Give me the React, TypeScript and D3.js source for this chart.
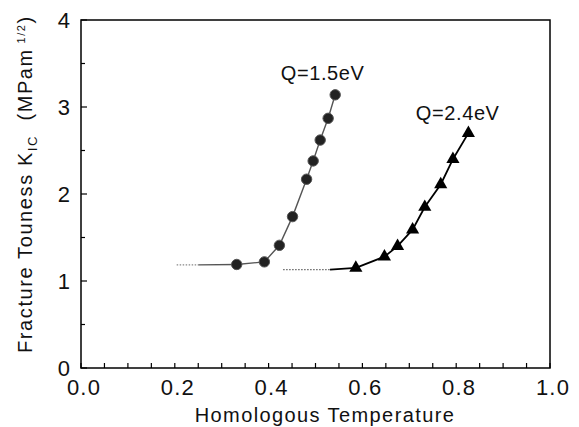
import React, { useEffect, useRef } from 'react';
import * as d3 from 'd3';

// Q = 1.5 eV series (circles)
const tempLow = [0.332, 0.391, 0.423, 0.451, 0.481, 0.495, 0.51, 0.527, 0.542];
const kicLow = [1.19, 1.22, 1.41, 1.74, 2.17, 2.38, 2.62, 2.87, 3.14];
// Q = 2.4 eV series (triangles)
const tempHigh = [0.586, 0.647, 0.675, 0.707, 0.733, 0.767, 0.793, 0.826];
const kicHigh = [1.15, 1.28, 1.4, 1.59, 1.85, 2.11, 2.4, 2.7];

// plateau extrapolations: dotted part then solid part
const lowDotT = [0.204, 0.25];
const lowDotK = [1.185, 1.185];
const lowSolidT = [0.25, 0.332];
const lowSolidK = [1.185, 1.19];
const highDotT = [0.431, 0.531];
const highDotK = [1.13, 1.13];
const highSolidT = [0.531, 0.586];
const highSolidK = [1.13, 1.15];

const xTicks = [0, 0.2, 0.4, 0.6, 0.8, 1.0];
const yTicks = [0, 1, 2, 3, 4];

const W = 579;
const H = 427;
const margin = { top: 20, right: 29, bottom: 59, left: 81 };
const FONT = '"Liberation Sans", Arial, Helvetica, sans-serif';

const zip = (xs: number[], ys: number[]) => xs.map((x, i) => [x, ys[i]] as [number, number]);

const App = () => {
  const ref = useRef<SVGSVGElement>(null);

  useEffect(() => {
    const svg = d3.select(ref.current);
    svg.selectAll('*').remove();

    const x = d3.scaleLinear().domain([0, 1]).range([margin.left, W - margin.right]);
    const y = d3.scaleLinear().domain([0, 4]).range([H - margin.bottom, margin.top]);

    const line = d3.line<[number, number]>().x(d => x(d[0])).y(d => y(d[1]));

    // frame
    svg.append('rect')
      .attr('x', x(0)).attr('y', y(4))
      .attr('width', x(1) - x(0)).attr('height', y(0) - y(4))
      .attr('fill', 'none').attr('stroke', '#000').attr('stroke-width', 1.5);

    // x ticks, inward, every 0.05
    const xt = d3.range(0, 1.0001, 0.05);
    svg.append('g').selectAll('line').data(xt).join('line')
      .attr('x1', d => x(d)).attr('x2', d => x(d))
      .attr('y1', y(0)).attr('y2', y(0) - 5)
      .attr('stroke', '#000').attr('stroke-width', 1.2);

    // y ticks, inward, major and half
    const yt = d3.range(0, 4.0001, 0.5);
    svg.append('g').selectAll('line').data(yt).join('line')
      .attr('x1', x(0)).attr('x2', d => x(0) + (d % 1 === 0 ? 6 : 4))
      .attr('y1', d => y(d)).attr('y2', d => y(d))
      .attr('stroke', '#000').attr('stroke-width', 1.2);

    svg.append('g').selectAll('text').data(xTicks).join('text')
      .attr('x', d => x(d) + 3).attr('y', y(0) + 27)
      .attr('text-anchor', 'middle')
      .attr('font-size', 22).attr('letter-spacing', 1.2)
      .attr('font-family', FONT).attr('fill', '#111')
      .text(d => d.toFixed(1));

    svg.append('g').selectAll('text').data(yTicks).join('text')
      .attr('x', x(0) - 11).attr('y', d => y(d) + 8)
      .attr('text-anchor', 'end')
      .attr('font-size', 22)
      .attr('font-family', FONT).attr('fill', '#111')
      .text(d => d);

    // axis titles
    svg.append('text')
      .attr('x', 325).attr('y', 422)
      .attr('text-anchor', 'middle')
      .attr('font-size', 20).attr('letter-spacing', 1.4)
      .attr('font-family', FONT).attr('fill', '#111')
      .text('Homologous Temperature');

    const yt2 = svg.append('text')
      .attr('transform', 'translate(32,353) rotate(-90)')
      .attr('font-size', 20).attr('letter-spacing', 1.6)
      .attr('font-family', FONT).attr('fill', '#111');
    yt2.append('tspan').text('Fracture Touness K');
    yt2.append('tspan').attr('font-size', 13).attr('dy', 5).text('IC');
    yt2.append('tspan').attr('dy', -5).text('\u00a0\u00a0(MPam');
    yt2.append('tspan').attr('font-size', 11).attr('dy', -7).text('\u00a01/2');
    yt2.append('tspan').attr('dy', 7).text(')');

    // extrapolated plateaus
    svg.append('path').datum(zip(lowDotT, lowDotK)).attr('d', line)
      .attr('fill', 'none').attr('stroke', '#888').attr('stroke-width', 1.2).attr('stroke-dasharray', '1.5,1.5');
    svg.append('path').datum(zip(lowSolidT, lowSolidK)).attr('d', line)
      .attr('fill', 'none').attr('stroke', '#555').attr('stroke-width', 1.4);
    svg.append('path').datum(zip(highDotT, highDotK)).attr('d', line)
      .attr('fill', 'none').attr('stroke', '#666').attr('stroke-width', 1.2).attr('stroke-dasharray', '1.5,1.5');
    svg.append('path').datum(zip(highSolidT, highSolidK)).attr('d', line)
      .attr('fill', 'none').attr('stroke', '#000').attr('stroke-width', 1.8);

    // series lines
    svg.append('path').datum(zip(tempLow, kicLow)).attr('d', line)
      .attr('fill', 'none').attr('stroke', '#555').attr('stroke-width', 1.4);
    svg.append('path').datum(zip(tempHigh, kicHigh)).attr('d', line)
      .attr('fill', 'none').attr('stroke', '#000').attr('stroke-width', 1.8);

    // markers
    svg.append('g').selectAll('circle').data(zip(tempLow, kicLow)).join('circle')
      .attr('cx', d => x(d[0])).attr('cy', d => y(d[1])).attr('r', 5.2)
      .attr('fill', '#222').attr('stroke', '#555').attr('stroke-width', 1);

    const tri = d3.symbol().type(d3.symbolTriangle).size(75);
    svg.append('g').selectAll('path').data(zip(tempHigh, kicHigh)).join('path')
      .attr('d', tri)
      .attr('transform', d => `translate(${x(d[0])},${y(d[1])})`)
      .attr('fill', '#000');

    // series labels
    svg.append('text').attr('x', x(0.426)).attr('y', 80)
      .attr('font-size', 20).attr('letter-spacing', 0.6)
      .attr('font-family', FONT).attr('fill', '#111').text('Q=1.5eV');
    svg.append('text').attr('x', x(0.714)).attr('y', 120)
      .attr('font-size', 20).attr('letter-spacing', 0.6)
      .attr('font-family', FONT).attr('fill', '#111').text('Q=2.4eV');
  }, []);

  return (
    <svg
      ref={ref}
      width={W}
      height={H}
      style={{ position: 'absolute', left: 0, top: 0, background: '#fff' }}
    />
  );
};

export default App;
